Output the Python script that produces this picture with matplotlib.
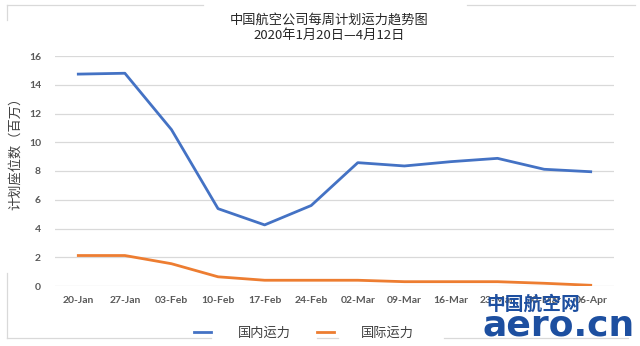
import matplotlib
matplotlib.use("Agg")
import matplotlib.pyplot as plt
from matplotlib.lines import Line2D

plt.rcParams['font.family'] = ['Noto Sans CJK SC', 'DejaVu Sans']

# weekly planned seats, millions
weeks = ["20-Jan", "27-Jan", "03-Feb", "10-Feb", "17-Feb", "24-Feb",
         "02-Mar", "09-Mar", "16-Mar", "23-Mar", "30-Mar", "06-Apr"]
domestic = [14.74, 14.8, 10.88, 5.38, 4.25, 5.6, 8.58, 8.35, 8.65, 8.88, 8.12, 7.95]
international = [2.12, 2.12, 1.55, 0.64, 0.4, 0.4, 0.4, 0.3, 0.3, 0.3, 0.19, 0.05]
yticks = [0, 2, 4, 6, 8, 10, 12, 14, 16]

W, H = 640, 346
fig = plt.figure(figsize=(W / 100, H / 100), dpi=100)
ax = fig.add_axes([55 / W, 1 - 286 / H, 559 / W, 230 / H])

x = list(range(len(weeks)))
ax.plot(x, domestic, color="#4472C4", lw=2, label="国内运力", solid_joinstyle="round")
ax.plot(x, international, color="#ED7D31", lw=2, label="国际运力", solid_joinstyle="round")

ax.set_xlim(-0.5, len(weeks) - 0.5)
ax.set_ylim(0, 16)
ax.set_yticks(yticks)
ax.set_xticks(x)
ax.set_xticklabels(weeks)
ax.grid(axis="y", color="#d9d9d9", lw=0.9)
ax.set_axisbelow(True)
for s in ax.spines.values():
    s.set_visible(False)
ax.tick_params(length=0, colors="#595959", labelsize=7.5, pad=7)
for lab in ax.get_xticklabels() + ax.get_yticklabels():
    lab.set_family("Lato")
    lab.set_weight("bold")
ax.tick_params(axis="y", pad=10)

fig.text(329 / W, 1 - 21 / H, "中国航空公司每周计划运力趋势图", ha="center", va="center",
         fontsize=9.5, color="#262626")
fig.text(329 / W, 1 - 35 / H, "2020年1月20日—4月12日", ha="center", va="center",
         fontsize=9.5, color="#262626")
fig.text(15 / W, 1 - 150 / H, "计划座位数（百万）", rotation=90, ha="center", va="center",
         fontsize=9.5, color="#404040")

leg = fig.legend(loc="center", bbox_to_anchor=(304 / W, 1 - 333 / H), ncol=2,
                 frameon=False, fontsize=9.5, handlelength=1.3, handletextpad=2.0,
                 columnspacing=2.0)
for t in leg.get_texts():
    t.set_color("#404040")

# light chart frame, broken where the title, axis label and legend sit
frame = [((7, 5), (203, 5)), ((467, 5), (635, 5)),
         ((7, 5), (7, 20)), ((7, 273), (7, 338)),
         ((7, 338), (211, 338)), ((317, 338), (338, 338)), ((444, 338), (628, 338))]
for (x0, y0), (x1, y1) in frame:
    fig.add_artist(Line2D([x0 / W, x1 / W], [1 - y0 / H, 1 - y1 / H],
                          transform=fig.transFigure, color="#d9d9d9", lw=0.9))

# site watermark
fig.text(486 / W, 1 - 304 / H, "中国航空网", ha="left", va="center", fontsize=13.5,
         weight="bold", color="#1d4fa0")
fig.text(482 / W, 1 - 325 / H, "aero.cn", ha="left", va="center", fontsize=26,
         weight="bold", color="#1d4fa0", family="DejaVu Sans")

fig.savefig("out.png", dpi=100, facecolor="white")
